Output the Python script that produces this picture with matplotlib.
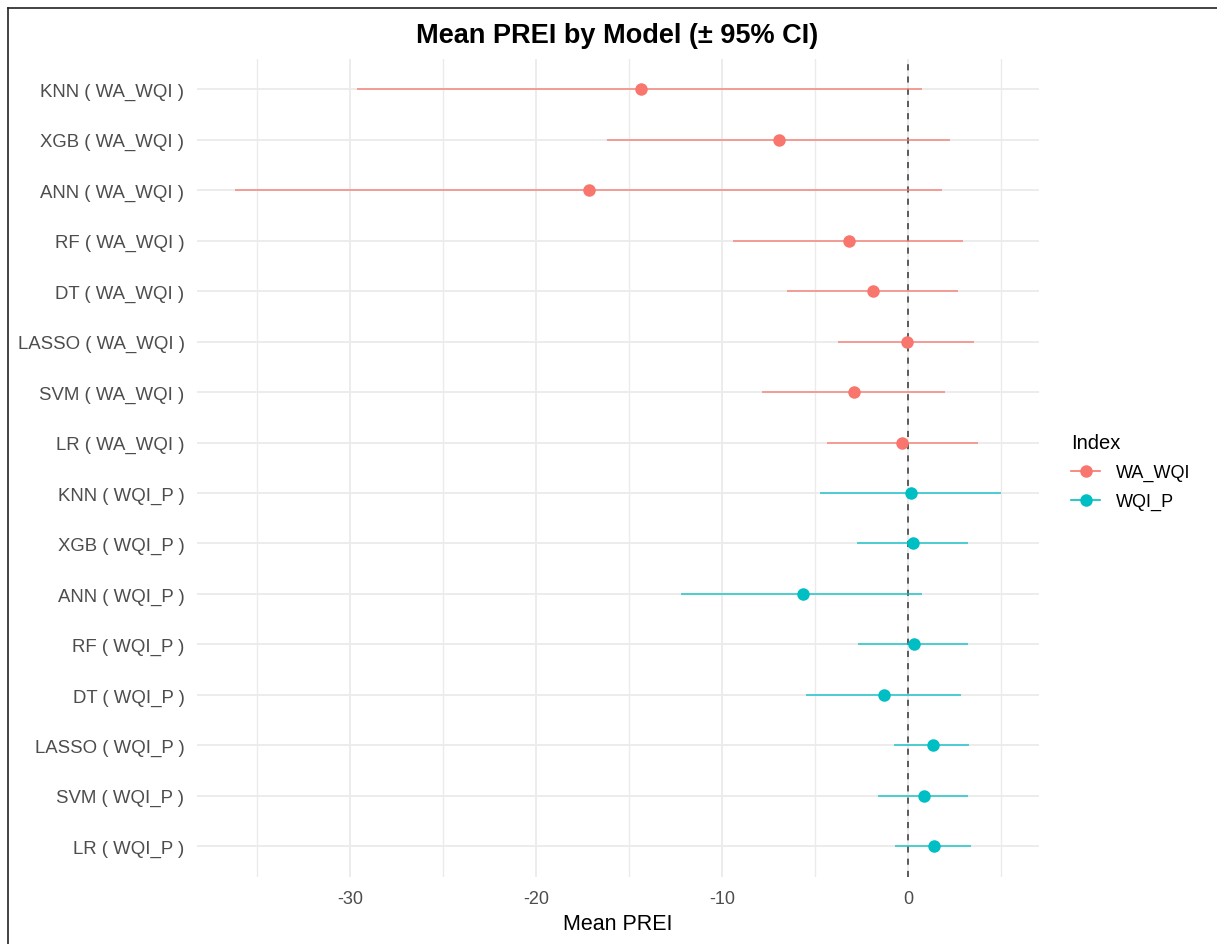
import numpy as np
import matplotlib.pyplot as plt
from matplotlib.lines import Line2D

plt.rcParams['font.family'] = ['Liberation Sans', 'DejaVu Sans']
plt.rcParams['axes.unicode_minus'] = False

models = ["KNN", "XGB", "ANN", "RF", "DT", "LASSO", "SVM", "LR"]
indices = ["WA_WQI", "WQI_P"]

# mean PREI and 95% CI bounds, rows in model order above
wa_mean = [-14.38, -6.94, -17.17, -3.20, -1.90, -0.10, -2.92, -0.33]
wa_lo = [-29.60, -16.19, -36.15, -9.41, -6.52, -3.76, -7.87, -4.38]
wa_hi = [0.74, 2.23, 1.78, 2.93, 2.68, 3.52, 1.95, 3.72]

wp_mean = [0.12, 0.23, -5.67, 0.32, -1.31, 1.30, 0.82, 1.39]
wp_lo = [-4.74, -2.77, -12.22, -2.69, -5.50, -0.78, -1.62, -0.72]
wp_hi = [4.96, 3.21, 0.74, 3.21, 2.85, 3.27, 3.21, 3.35]

colors = {"WA_WQI": "#F8766D", "WQI_P": "#00BFC4"}

W, H = 1217, 945
fig = plt.figure(figsize=(W / 100, H / 100), dpi=100)
ax = fig.add_axes([197 / W, 1 - 877.5 / H, (1039 - 197) / W, (877.5 - 60) / H])

labels = [f"{m} ( WA_WQI )" for m in models] + [f"{m} ( WQI_P )" for m in models]
ypos = np.arange(len(labels))

series = [("WA_WQI", wa_mean, wa_lo, wa_hi), ("WQI_P", wp_mean, wp_lo, wp_hi)]
for k, (name, mean, lo, hi) in enumerate(series):
    yy = ypos[k * len(models):(k + 1) * len(models)]
    c = colors[name]
    ax.hlines(yy, lo, hi, color=c, lw=1.2, alpha=0.8, zorder=3)
    ax.plot(mean, yy, "o", color=c, ms=9, mec="none", zorder=4)

ax.axvline(0, color="#333333", lw=1.1, ls=(0, (4, 4)), zorder=2)

allv = wa_lo + wa_hi + wp_lo + wp_hi
lo_, hi_ = min(allv), max(allv)
pad = 0.05 * (hi_ - lo_)
ax.set_xlim(lo_ - pad, hi_ + pad)
ax.set_ylim(len(labels) - 0.4, -0.6)

ax.set_xticks([-30, -20, -10, 0])
ax.set_xticks([-35, -25, -15, -5, 5], minor=True)
ax.set_yticks(ypos)
ax.set_yticklabels(labels)
ax.grid(which="major", color="#EBEBEB", lw=1.3, zorder=0)
ax.grid(which="minor", axis="x", color="#EBEBEB", lw=1.0, zorder=0)
ax.set_axisbelow(True)
for s in ax.spines.values():
    s.set_visible(False)
ax.tick_params(which="both", length=0, labelsize=13, colors="#4D4D4D")
ax.tick_params(axis="y", pad=9, labelsize=13.4)
ax.tick_params(axis="x", pad=10)

ax.set_xlabel("Mean PREI", fontsize=15.5, labelpad=4)
fig.text(617 / W, 1 - 36 / H, "Mean PREI by Model (\u00b1 95% CI)",
         ha="center", va="center", fontsize=19.5, fontweight="bold")

handles = [Line2D([0], [0], color=colors[n], lw=1.2, marker="o", ms=9, mec="none")
           for n in indices]
leg = fig.legend(handles, indices, title="Index", loc="upper left",
                 bbox_to_anchor=(1055 / W, 1 - 418 / H), frameon=False,
                 fontsize=13, title_fontsize=14.5, handlelength=1.6,
                 labelspacing=0.65, handletextpad=0.9, alignment="left")

# screenshot frame on left and top edges
fig.add_artist(Line2D([8 / W, 8 / W], [0, 1 - 9 / H], color="#222222", lw=1.2))
fig.add_artist(Line2D([8 / W, 1], [1 - 9 / H, 1 - 9 / H], color="#222222", lw=1.2))

fig.savefig("out.png", dpi=100)
